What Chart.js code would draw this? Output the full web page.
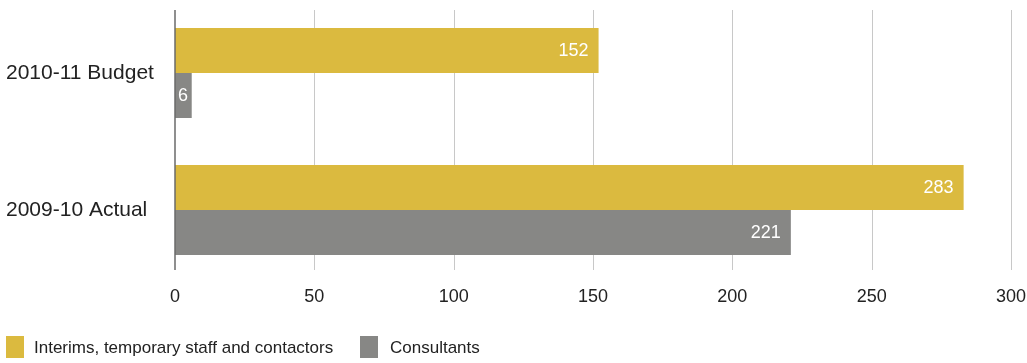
<!DOCTYPE html>
<html>
<head>
<meta charset="utf-8">
<script src="https://cdn.jsdelivr.net/npm/chart.js@4/dist/chart.umd.min.js"></script>
<style>
  html, body { margin: 0; padding: 0; background: #fff; }
  #wrap { position: relative; width: 1027px; height: 363px; overflow: hidden; }
  canvas { position: absolute; left: 0; top: 0; }
  .legend { position: absolute; top: 336px; left: 0; width: 1027px; height: 22px; font-family: "Liberation Sans", Arial, sans-serif; font-size: 17px; color: #222; }
  .box { position: absolute; top: 0; width: 18px; height: 22px; }
  .txt { position: absolute; top: 0; line-height: 24px; white-space: nowrap; }
</style>
</head>
<body>
<div id="wrap">
  <canvas id="c" width="1027" height="363"></canvas>
  <div class="legend" id="legend"></div>
</div>
<script>
const categories = ['2010-11 Budget', '2009-10 Actual'];
const seriesNames = ['Interims, temporary staff and contactors', 'Consultants'];
const interims = [152, 283];
const consultants = [6, 221];
const xTicks = [0, 50, 100, 150, 200, 250, 300];

const colors = ['#dbba3f', '#878785'];
const FONT = '"Liberation Sans", Arial, sans-serif';

// HTML legend (real text)
const legendPos = [{box: 6, text: 34}, {box: 360, text: 390}];
const legendEl = document.getElementById('legend');
seriesNames.forEach((name, i) => {
  const b = document.createElement('div');
  b.className = 'box';
  b.style.left = legendPos[i].box + 'px';
  b.style.background = colors[i];
  const t = document.createElement('div');
  t.className = 'txt';
  t.style.left = legendPos[i].text + 'px';
  t.textContent = name;
  legendEl.appendChild(b);
  legendEl.appendChild(t);
});

const gridPlugin = {
  id: 'customGrid',
  beforeDatasetsDraw(chart) {
    const {ctx, scales: {x}} = chart;
    ctx.save();
    ctx.strokeStyle = '#c8c8c8';
    ctx.lineWidth = 1;
    x.ticks.forEach((t) => {
      if (t.value === 0) return;
      const px = Math.round(x.getPixelForValue(t.value)) + 0.5;
      ctx.beginPath();
      ctx.moveTo(px, 10);
      ctx.lineTo(px, 270);
      ctx.stroke();
    });
    ctx.restore();
  },
  afterDatasetsDraw(chart) {
    const {ctx, scales: {x}} = chart;
    ctx.save();
    ctx.strokeStyle = '#6a6a6a';
    ctx.lineWidth = 1.5;
    const px0 = x.getPixelForValue(0);
    ctx.beginPath();
    ctx.moveTo(px0, 10);
    ctx.lineTo(px0, 270);
    ctx.stroke();
    ctx.fillStyle = '#ffffff';
    ctx.font = '18px ' + FONT;
    ctx.textBaseline = 'middle';
    chart.data.datasets.forEach((ds, di) => {
      const meta = chart.getDatasetMeta(di);
      meta.data.forEach((bar, i) => {
        const label = String(ds.data[i]);
        const w = ctx.measureText(label).width;
        const barW = bar.x - bar.base;
        let xr = bar.x - 10;
        if (w + 14 > barW) xr = bar.base + 3 + w;
        ctx.textAlign = 'right';
        ctx.fillText(label, xr, bar.y + 1);
      });
    });
    ctx.restore();
  }
};

new Chart(document.getElementById('c'), {
  type: 'bar',
  data: {
    labels: categories,
    datasets: [
      { label: seriesNames[0], data: interims, backgroundColor: colors[0], borderWidth: 0,
        categoryPercentage: 0.657, barPercentage: 1.0 },
      { label: seriesNames[1], data: consultants, backgroundColor: colors[1], borderWidth: 0,
        categoryPercentage: 0.657, barPercentage: 1.0 }
    ]
  },
  options: {
    indexAxis: 'y',
    responsive: false,
    animation: false,
    devicePixelRatio: 1,
    layout: { padding: { left: 6, right: 16, top: 4.5, bottom: 54.5 } },
    plugins: { legend: { display: false }, tooltip: { enabled: false } },
    scales: {
      x: {
        type: 'linear',
        min: 0, max: 300,
        afterBuildTicks(scale) { scale.ticks = xTicks.map(v => ({value: v})); },
        grid: { display: false, drawTicks: false },
        border: { display: false },
        ticks: { padding: 8, color: '#222', font: { family: FONT, size: 18 } },
        afterFit(scale) { scale.height = 30; scale.paddingLeft = 0; scale.paddingRight = 0; }
      },
      y: {
        grid: { display: false, drawTicks: false },
        border: { display: false },
        ticks: { crossAlign: 'far', color: '#222', font: { family: FONT, size: 21 }, padding: 0 },
        afterFit(scale) { scale.width = 169; scale.paddingTop = 0; scale.paddingBottom = 0; }
      }
    }
  },
  plugins: [gridPlugin]
});
</script>
</body>
</html>
